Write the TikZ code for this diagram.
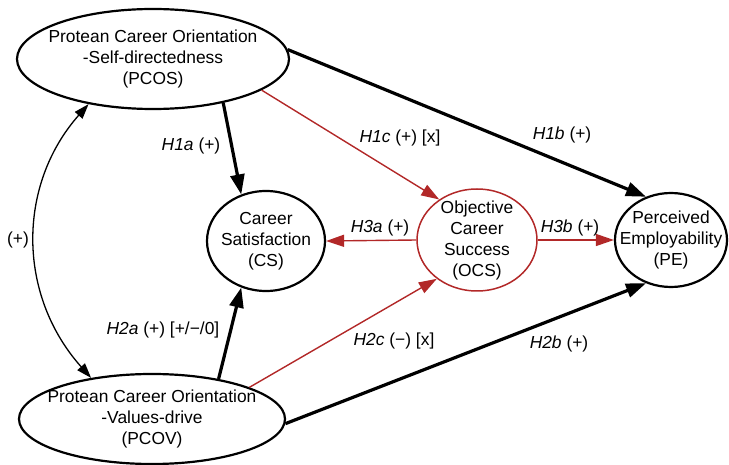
\documentclass[tikz,border=0pt]{standalone}
\usepackage{fontspec}
\setmainfont{Liberation Sans}
\usetikzlibrary{arrows.meta,shapes.geometric}
\definecolor{hred}{RGB}{178,40,40}

\tikzset{
  latent/.style={draw, ellipse, line width=2.2pt, align=center, inner sep=-30pt},
  strong/.style={line width=3.2pt, -{Triangle[length=20pt,width=14pt]}},
  weak/.style={hred, line width=1.4pt, -{Triangle[length=18pt,width=12pt]}},
  hyp/.style={inner sep=1pt}
}

\begin{document}
\begin{tikzpicture}[x=1pt,y=-1pt,font=\fontsize{17.4}{21}\selectfont]
\useasboundingbox (0,0) rectangle (729,465);

\node[latent, minimum width=272pt, minimum height=100pt] (pcos) at (153,59)
  {Protean Career Orientation\\-Self-directedness\\(PCOS)};
\node[latent, minimum width=266pt, minimum height=90pt] (pcov) at (152,419)
  {Protean Career Orientation\\-Values-drive\\(PCOV)};
\node[latent, minimum width=118pt, minimum height=100pt] (cs) at (266,241)
  {Career\\Satisfaction\\(CS)};
\node[latent, draw=hred, line width=1.5pt, minimum width=120pt, minimum height=102pt] (ocs) at (477,240)
  {Objective\\Career\\Success\\(OCS)};
\node[latent, minimum width=112pt, minimum height=94pt] (pe) at (671,240)
  {Perceived\\Employability\\(PE)};

% paths
\draw[strong] (pcos.-32) -- (cs.118);
\draw[strong] (pcov.31) -- (cs.-118);
\draw[strong] (pcos.4) -- (pe.120);
\draw[strong] (pcov.-2) -- (pe.-120);
\draw[weak] (pcos.-16) -- (ocs.133);
\draw[weak] (pcov.18) -- (ocs.-136);
\draw[weak] (ocs.west) -- (cs.east);
\draw[weak] (ocs.east) -- (pe.west);
\draw[line width=1.3pt, {Triangle[length=15pt,width=10pt]}-{Triangle[length=15pt,width=10pt]}]
  (pcos.-145) .. controls (17,185) and (17,295) .. (pcov.146);

% labels
\node[hyp] (l1a) at (191,146) {\textit{H1a} (+)};
\node[hyp] (l1c) at (400,138) {\textit{H1c} (+) [x]};
\node[hyp] (l1b) at (562,135) {\textit{H1b} (+)};
\node[hyp] (l2a) at (163,330) {\textit{H2a} (+) [+/−/0]};
\node[hyp] (l2c) at (394,341) {\textit{H2c} (−) [x]};
\node[hyp] (l2b) at (559,344) {\textit{H2b} (+)};
\node[hyp] (l3a) at (380,228) {\textit{H3a} (+)};
\node[hyp] (l3b) at (570,228) {\textit{H3b} (+)};
\node[hyp] (lcov) at (18,240) {(+)};
\end{tikzpicture}
\end{document}
